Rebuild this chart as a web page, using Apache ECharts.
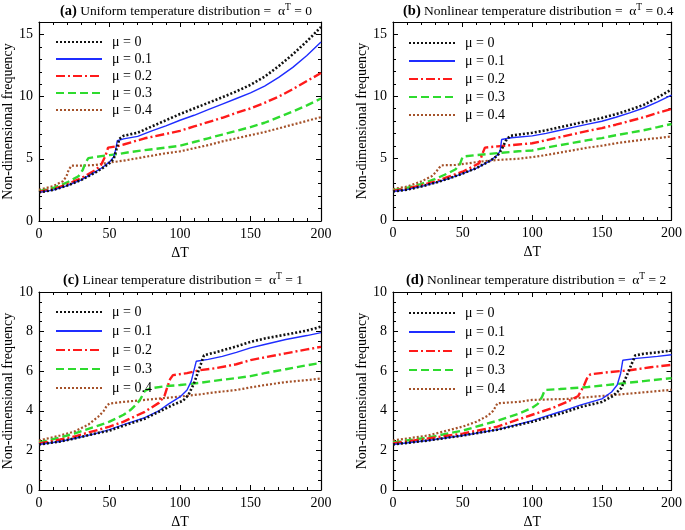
<!DOCTYPE html>
<html>
<head>
<meta charset="utf-8">
<script src="https://cdn.jsdelivr.net/npm/echarts@6/dist/echarts.min.js"></script>
<style>html,body{margin:0;padding:0;background:#fff}#c{width:685px;height:530px}</style>
</head>
<body>
<div id="c"></div>
<script>
// ---- data (ΔT, non-dimensional frequency) ----
const seriesNames = ['μ = 0', 'μ = 0.1', 'μ = 0.2', 'μ = 0.3', 'μ = 0.4'];
const xTicks = [0, 50, 100, 150, 200];

// (a) uniform, alpha^T = 0
const a_mu0 = [[0,2.3],[10,2.5],[20,2.85],[30,3.3],[40,3.9],[45,4.25],[50,4.65],[53,5.0],[55,5.8],[57,6.6],[60,6.85],[70,7.1],[80,7.6],[90,8.1],[100,8.6],[110,9.05],[120,9.5],[130,9.95],[140,10.42],[150,10.95],[160,11.6],[170,12.45],[180,13.4],[190,14.45],[200,15.6]];
const a_mu1 = [[0,2.3],[10,2.48],[20,2.85],[30,3.3],[40,3.95],[45,4.3],[50,4.75],[53,5.15],[54.5,5.8],[55.5,6.45],[60,6.6],[70,6.8],[80,7.25],[90,7.65],[100,8.1],[110,8.5],[120,8.95],[130,9.4],[140,9.85],[150,10.3],[160,10.85],[170,11.55],[180,12.35],[190,13.3],[200,14.4]];
const a_mu2 = [[0,2.35],[10,2.55],[20,2.95],[30,3.45],[40,4.1],[44,4.5],[47,5.2],[49,5.9],[55,6.0],[60,6.15],[75,6.65],[90,7.0],[100,7.25],[110,7.6],[120,7.95],[130,8.3],[140,8.7],[150,9.05],[160,9.5],[170,10.0],[180,10.6],[190,11.25],[200,11.9]];
const a_mu3 = [[0,2.4],[10,2.65],[20,3.1],[28,3.6],[31,4.1],[33,4.7],[35,5.05],[40,5.15],[50,5.3],[57,5.4],[65,5.55],[75,5.7],[90,5.9],[100,6.05],[110,6.35],[120,6.65],[130,6.95],[140,7.25],[150,7.55],[160,7.9],[170,8.35],[180,8.8],[190,9.3],[200,9.85]];
const a_mu4 = [[0,2.5],[10,2.8],[17,3.2],[19.5,3.6],[21,4.1],[23,4.45],[30,4.45],[40,4.5],[50,4.7],[60,4.85],[75,5.15],[90,5.45],[100,5.6],[110,5.85],[120,6.1],[130,6.4],[140,6.65],[150,6.9],[160,7.15],[170,7.45],[180,7.75],[190,8.05],[200,8.35]];

// (b) nonlinear, alpha^T = 0.4
const b_mu0 = [[0,2.3],[10,2.45],[20,2.7],[30,3.0],[40,3.35],[50,3.75],[60,4.2],[70,4.8],[75,5.2],[78,5.7],[81,6.4],[84,6.8],[90,6.9],[100,7.05],[110,7.25],[120,7.5],[130,7.75],[140,8.0],[150,8.25],[160,8.55],[170,8.9],[180,9.3],[190,9.9],[200,10.55]];
const b_mu1 = [[0,2.3],[10,2.45],[20,2.7],[30,3.0],[40,3.35],[50,3.75],[60,4.2],[70,4.8],[75,5.25],[77,5.6],[78,6.5],[85,6.65],[100,6.8],[110,7.0],[120,7.25],[130,7.5],[140,7.75],[150,7.98],[160,8.3],[170,8.65],[180,9.05],[190,9.55],[200,10.1]];
const b_mu2 = [[0,2.35],[10,2.55],[20,2.8],[30,3.1],[40,3.5],[50,3.9],[57,4.3],[62,4.6],[64,5.3],[66,5.85],[75,5.95],[90,6.1],[100,6.2],[110,6.45],[120,6.7],[130,6.95],[140,7.2],[150,7.43],[160,7.7],[170,8.0],[180,8.3],[190,8.65],[200,8.97]];
const b_mu3 = [[0,2.4],[10,2.6],[20,2.9],[30,3.3],[40,3.8],[45,4.1],[48,4.5],[50,5.1],[52,5.15],[60,5.25],[75,5.4],[90,5.55],[100,5.62],[110,5.85],[120,6.05],[130,6.25],[140,6.45],[150,6.62],[160,6.85],[170,7.05],[180,7.25],[190,7.5],[200,7.76]];
const b_mu4 = [[0,2.5],[10,2.7],[20,3.1],[28,3.55],[31,3.9],[33,4.2],[35,4.42],[45,4.45],[55,4.6],[65,4.75],[75,4.85],[90,4.95],[100,5.08],[110,5.25],[120,5.45],[130,5.65],[140,5.85],[150,6.0],[160,6.2],[170,6.35],[180,6.5],[190,6.62],[200,6.76]];

// (c) linear, alpha^T = 1
const c_mu0 = [[0,2.3],[15,2.45],[25,2.6],[40,2.85],[50,3.0],[60,3.25],[75,3.6],[85,3.95],[95,4.3],[102,4.5],[106,4.8],[110,5.4],[113,6.0],[117,6.8],[125,6.95],[140,7.25],[150,7.48],[160,7.65],[175,7.85],[190,8.05],[200,8.25]];
const c_mu1 = [[0,2.3],[15,2.45],[25,2.6],[40,2.85],[50,3.05],[60,3.3],[75,3.65],[85,4.0],[92,4.35],[100,4.7],[105,5.05],[108,5.5],[111.5,6.5],[120,6.6],[130,6.75],[140,6.95],[150,7.18],[160,7.35],[175,7.6],[190,7.8],[200,7.95]];
const c_mu2 = [[0,2.35],[15,2.55],[25,2.7],[40,3.0],[50,3.2],[60,3.45],[75,3.95],[85,4.4],[89,4.75],[91,5.2],[93,5.6],[95,5.8],[105,5.9],[114,6.05],[125,6.15],[140,6.35],[150,6.56],[160,6.7],[175,6.9],[190,7.1],[200,7.23]];
const c_mu3 = [[0,2.4],[15,2.65],[25,2.85],[40,3.2],[50,3.45],[60,3.8],[65,4.05],[70,4.4],[72,4.6],[75,5.0],[79,5.13],[90,5.25],[100,5.3],[114,5.41],[128,5.55],[140,5.65],[150,5.75],[160,5.9],[175,6.1],[190,6.3],[200,6.42]];
const c_mu4 = [[0,2.5],[15,2.75],[25,2.95],[35,3.3],[42,3.7],[46,4.0],[48,4.25],[50,4.37],[60,4.45],[75,4.55],[90,4.65],[100,4.72],[114,4.83],[128,4.96],[140,5.05],[150,5.18],[160,5.3],[175,5.45],[190,5.55],[200,5.63]];

// (d) nonlinear, alpha^T = 2
const d_mu0 = [[0,2.3],[25,2.5],[50,2.75],[75,3.05],[100,3.45],[120,3.85],[135,4.2],[150,4.45],[158,4.75],[164,5.15],[168,5.8],[171,6.3],[174,6.8],[180,6.88],[190,6.95],[200,7.05]];
const d_mu1 = [[0,2.3],[25,2.5],[50,2.75],[75,3.05],[100,3.5],[120,3.95],[135,4.3],[150,4.6],[157,4.95],[161,5.3],[163.5,5.9],[165,6.55],[175,6.65],[190,6.75],[200,6.83]];
const d_mu2 = [[0,2.35],[25,2.6],[50,2.85],[75,3.2],[100,3.8],[115,4.15],[125,4.45],[133,4.75],[137,5.25],[140,5.75],[142,5.85],[155,5.95],[170,6.05],[185,6.2],[200,6.32]];
const d_mu3 = [[0,2.4],[25,2.65],[50,3.0],[75,3.5],[90,3.85],[100,4.15],[104,4.35],[107,4.7],[109,5.05],[120,5.1],[140,5.2],[160,5.35],[180,5.5],[200,5.65]];
const d_mu4 = [[0,2.5],[25,2.75],[50,3.2],[60,3.45],[68,3.75],[72,4.0],[75,4.38],[90,4.45],[100,4.55],[125,4.6],[150,4.75],[175,4.9],[200,5.06]];

const panels = [
  {tag:'(a)', label:'Uniform temperature distribution =  α', val:' = 0',   ymax:16, yint:5, ymin:5, data:[a_mu0,a_mu1,a_mu2,a_mu3,a_mu4]},
  {tag:'(b)', label:'Nonlinear temperature distribution =  α', val:' = 0.4', ymax:16, yint:5, ymin:5, data:[b_mu0,b_mu1,b_mu2,b_mu3,b_mu4]},
  {tag:'(c)', label:'Linear temperature distribution =  α', val:' = 1',   ymax:10, yint:2, ymin:4, data:[c_mu0,c_mu1,c_mu2,c_mu3,c_mu4]},
  {tag:'(d)', label:'Nonlinear temperature distribution =  α', val:' = 2',   ymax:10, yint:2, ymin:4, data:[d_mu0,d_mu1,d_mu2,d_mu3,d_mu4]}
];

// ---- layout & style ----
const FONT = 'Liberation Serif';
const grids = [
  {left:39, top:22, width:282, height:199},
  {left:393, top:22, width:280, height:198},
  {left:39, top:292, width:282, height:198},
  {left:393, top:292, width:280, height:198}
];
const titlePos = [{left:60, top:2},{left:403, top:2},{left:63, top:271},{left:406, top:271}];
const legendPos = [{left:55, top:35, gap:3},{left:408, top:36, gap:4},{left:55, top:305, gap:5},{left:408, top:306, gap:5}];
const lineStyles = [
  {color:'#111111', type:[2,2], width:2.6},
  {color:'#1f2dff', type:'solid', width:1.4},
  {color:'#ff1a1a', type:[9,3,2,3], width:2.4},
  {color:'#2edb2e', type:[8,4], width:2.4},
  {color:'#a5522a', type:[2,2], width:2.2}
];

const axisLineS = {onZero:false, lineStyle:{color:'#000', width:1.2}};
const tickS = {show:true, inside:true, length:5, lineStyle:{color:'#000', width:1}};
const labelS = {fontFamily:FONT, fontSize:14, color:'#000'};

const option = {animation:false, grid:grids, title:[], legend:[], xAxis:[], yAxis:[], series:[]};

panels.forEach((p, gi) => {
  option.title.push({
    left: titlePos[gi].left, top: titlePos[gi].top, padding:0,
    text: '{b|' + p.tag + '}{n| ' + p.label + '}{s|T}{n|' + p.val + '}',
    textStyle: {fontWeight:'normal', rich: {
      b:{fontFamily:FONT, fontWeight:'bold', fontSize:14.5, color:'#000'},
      n:{fontFamily:FONT, fontWeight:'normal', fontSize:13.5, color:'#000'},
      s:{fontFamily:FONT, fontWeight:'normal', fontSize:9.5, color:'#000', padding:[0,0,8,0]}
    }}
  });
  option.legend.push({
    orient:'vertical', left:legendPos[gi].left, top:legendPos[gi].top, padding:0,
    itemWidth:46, itemHeight:14, itemGap:legendPos[gi].gap,
    data: seriesNames.slice(),
    itemStyle:{opacity:0, color:'rgba(0,0,0,0)', borderWidth:0},
    textStyle:{fontFamily:FONT, fontSize:14, color:'#000', padding:[0,0,0,5]},
    selectedMode:false
  });
  // bottom & top x axes
  option.xAxis.push({
    gridIndex:gi, type:'value', position:'bottom', min:0, max:200, interval:50,
    name:'ΔT', nameLocation:'middle', nameGap:25,
    nameTextStyle:{fontFamily:FONT, fontSize:14, color:'#000'},
    axisLine:axisLineS, axisTick:tickS,
    minorTick:{show:true, splitNumber:5, length:3, lineStyle:{color:'#000'}},
    splitLine:{show:false},
    axisLabel:Object.assign({margin:6, formatter:(v)=> xTicks.includes(v) ? String(v) : ''}, labelS)
  });
  option.xAxis.push({
    gridIndex:gi, type:'value', position:'top', min:0, max:200, interval:50,
    axisLine:axisLineS, axisTick:tickS,
    minorTick:{show:true, splitNumber:5, length:3, lineStyle:{color:'#000'}},
    splitLine:{show:false}, axisLabel:{show:false}
  });
  option.yAxis.push({
    gridIndex:gi, type:'value', position:'left', min:0, max:p.ymax, interval:p.yint,
    name:'Non-dimensional frequency', nameLocation:'middle', nameGap:22,
    nameTextStyle:{fontFamily:FONT, fontSize:14, color:'#000'},
    axisLine:axisLineS, axisTick:tickS,
    minorTick:{show:true, splitNumber:p.ymin, length:3, lineStyle:{color:'#000'}},
    splitLine:{show:false},
    axisLabel:Object.assign({margin:6, showMaxLabel: p.ymax % p.yint === 0}, labelS)
  });
  option.yAxis.push({
    gridIndex:gi, type:'value', position:'right', min:0, max:p.ymax, interval:p.yint,
    axisLine:axisLineS, axisTick:tickS,
    minorTick:{show:true, splitNumber:p.ymin, length:3, lineStyle:{color:'#000'}},
    splitLine:{show:false}, axisLabel:{show:false}
  });
  for (let k = 4; k >= 0; k--) {
    option.series.push({
      type:'line', name:seriesNames[k], xAxisIndex:gi*2, yAxisIndex:gi*2,
      data:p.data[k], symbol:'none', showSymbol:false,
      lineStyle:Object.assign({cap:'butt'}, lineStyles[k]),
      itemStyle:{color:lineStyles[k].color},
      color:lineStyles[k].color
    });
  }
});

const chart = echarts.init(document.getElementById('c'), null, {renderer:'canvas'});
chart.setOption(option);
</script>
</body>
</html>
